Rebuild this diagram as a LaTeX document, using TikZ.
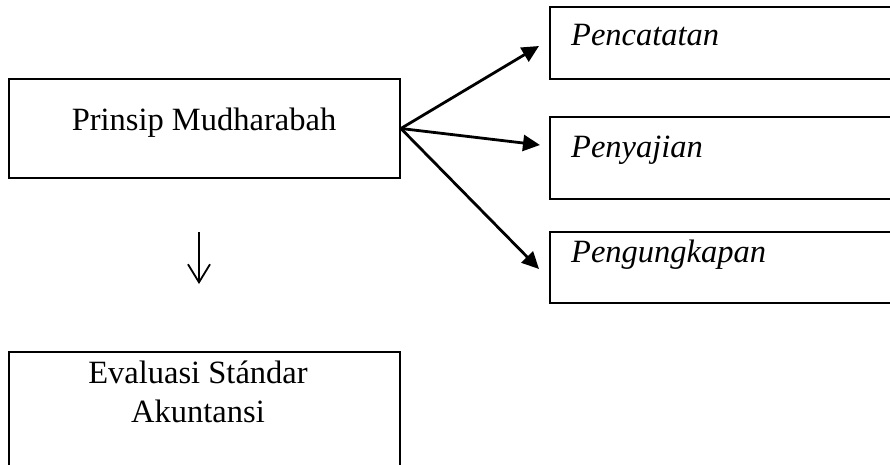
\documentclass[tikz,border=0pt]{standalone}
\usepackage{fontspec}
\setmainfont{Liberation Serif}
\usetikzlibrary{arrows.meta}
\begin{document}
\begin{tikzpicture}[x=1pt,y=-1pt,
  box/.style={draw=black, line width=1.8pt, rectangle, inner sep=0pt},
  lbl/.style={anchor=base, inner sep=0pt, font=\fontsize{32.5}{39}\selectfont},
  ilbl/.style={anchor=base west, inner sep=0pt, font=\fontsize{32.5}{39}\selectfont\itshape},
  conn/.style={line width=2.8pt, -{Triangle[length=17pt,width=16pt]}},
  downarr/.style={line width=1.8pt, -{Straight Barb[length=18pt,width=22pt,line width=1.8pt]}}]
\useasboundingbox (0,0) rectangle (890,464);
\clip (0,0) rectangle (890,464);
% boxes
\node[box, minimum width=391pt, minimum height=99pt] (pm) at (204.5,128.5) {};
\node[box, minimum width=391pt, minimum height=140pt] (ev) at (204.5,422) {};
\node[box, minimum width=360pt, minimum height=72pt] (b1) at (730,43) {};
\node[box, minimum width=360pt, minimum height=82pt] (b2) at (730,158) {};
\node[box, minimum width=360pt, minimum height=71pt] (b3) at (730,267.5) {};
% texts
\node[lbl] (tpm) at (204,130) {Prinsip Mudharabah};
\node[lbl] (tev1) at (198,383) {Evaluasi Stándar};
\node[lbl] (tev2) at (198,422) {Akuntansi};
\node[ilbl] (t1) at (571,45) {Pencatatan};
\node[ilbl] (t2) at (571,157) {Penyajian};
\node[ilbl] (t3) at (571,262) {Pengungkapan};
% arrow targets
\coordinate (src) at (pm.east);
\coordinate (e1) at (539,46);
\coordinate (e2) at (540,145);
\coordinate (e3) at (539,269);
\draw[conn] (src) -- (e1);
\draw[conn] (src) -- (e2);
\draw[conn] (src) -- (e3);
% down arrow
\coordinate (d1) at (199,232);
\coordinate (d2) at (199,284);
\draw[downarr] (d1) -- (d2);
\end{tikzpicture}
\end{document}
